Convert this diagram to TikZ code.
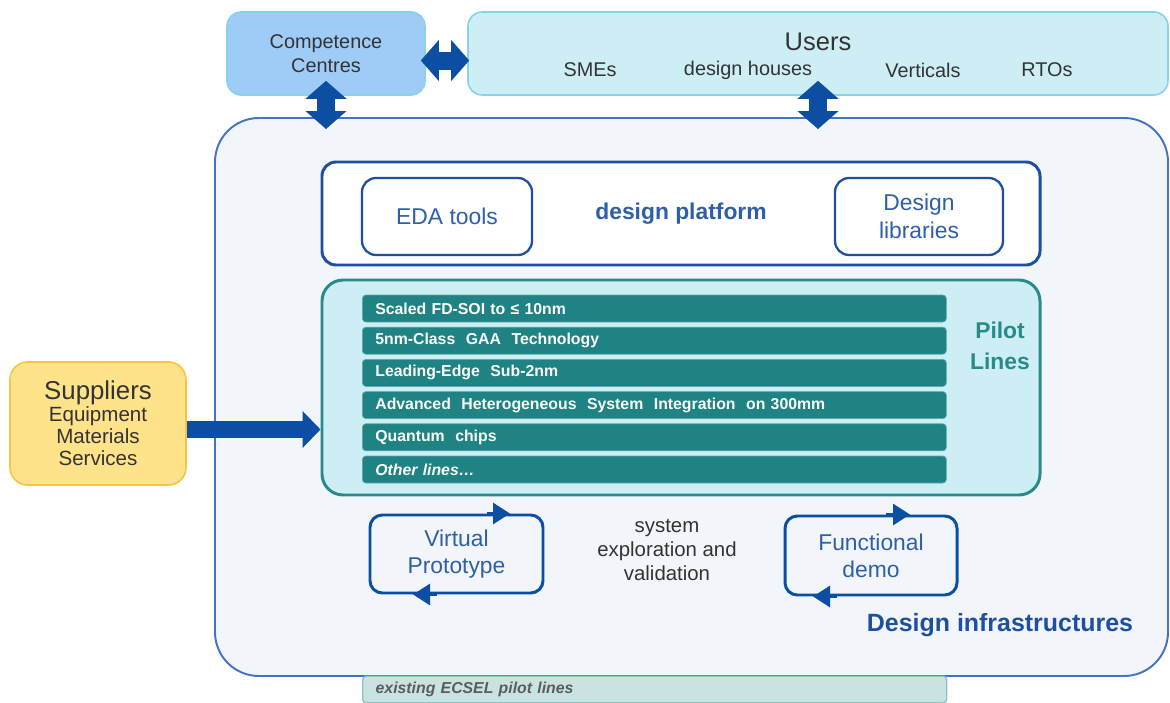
\documentclass[tikz,border=0pt]{standalone}
\usepackage{fontspec}
\setmainfont{Liberation Sans}
\usetikzlibrary{arrows.meta,positioning}

\definecolor{arrowblue}{HTML}{0B4EA2}
\definecolor{infraline}{HTML}{4472C4}
\definecolor{infrafill}{HTML}{F2F6FB}
\definecolor{platline}{HTML}{1F4FA0}
\definecolor{plattext}{HTML}{2F5FA8}
\definecolor{tealline}{HTML}{2A8A8A}
\definecolor{tealbar}{HTML}{1F8383}
\definecolor{lightcyan}{HTML}{CCEEF4}
\definecolor{cyanline}{HTML}{85D5E6}
\definecolor{ccfill}{HTML}{9FCBF7}
\definecolor{supfill}{HTML}{FFE38A}
\definecolor{supline}{HTML}{F5C542}
\definecolor{ecselfill}{HTML}{C9E3E3}
\definecolor{ecselline}{HTML}{8CC3C3}
\definecolor{darktext}{HTML}{333333}

\def\pxu{0.02cm}
\tikzstyle{topbox}=[draw=cyanline, line width=0.9pt, rounded corners=8pt,
                    text=darktext, align=center]
\tikzstyle{bluebox}=[draw=platline, line width=1.3pt, rounded corners=8pt,
                     fill=white, text=plattext, align=center,
                     font=\fontsize{13}{16}\selectfont]
\tikzstyle{linebar}=[fill=tealbar, draw=tealbar!70!white, rounded corners=2pt,
                     anchor=west, minimum height=27*\pxu, inner xsep=13*\pxu,
                     text width=558*\pxu, align=left, text=white,
                     font=\fontsize{9}{10}\selectfont\bfseries]
\tikzstyle{loopbox}=[draw=arrowblue, line width=1.7pt, rounded corners=7pt,
                     text=plattext, align=center,
                     font=\fontsize{13}{15.5}\selectfont]
\tikzstyle{fatarrow}=[arrowblue, line width=18*\pxu,
                      {Triangle[width=40*\pxu, length=18*\pxu]}-{Triangle[width=40*\pxu, length=18*\pxu]}]
\tikzstyle{looptip}=[arrowblue, line width=1.7pt,
                     -{Triangle[width=21*\pxu, length=17*\pxu]}]

\begin{document}
\begin{tikzpicture}[x=\pxu, y=-\pxu]
  \useasboundingbox (0,0) rectangle (1170,703);
  % Outer design infrastructure
  \node[draw=infraline, fill=infrafill, line width=1.1pt, rounded corners=25pt,
        minimum width=953*\pxu, minimum height=558*\pxu] (infra) at (691.5,397) {};
  \node[text=platline, font=\fontsize{14.2}{17}\selectfont\bfseries]
        (infralabel) at (1000,625) {Design infrastructures};
  %
  % Top row: competence centres and users
  \node[topbox, fill=ccfill, minimum width=198*\pxu, minimum height=83*\pxu,
        font=\fontsize{11.3}{13.5}\selectfont] (cc) at (326,53.5) {Competence\\Centres};
  \node[topbox, fill=lightcyan, minimum width=700*\pxu, minimum height=83*\pxu]
        (users) at (818,53.5) {};
  \node[text=darktext, font=\fontsize{14.5}{17}\selectfont] (userstitle) at (818,42) {Users};
  \foreach \place/\name/\txt in {{(590,70)/sme/SMEs}, {(748,70)/dh/design houses},
           {(923,70)/vert/Verticals}, {(1047,70)/rto/RTOs}}
    \node[text=darktext, font=\fontsize{11.3}{13.5}\selectfont] (\name) at \place {\txt};
  %
  % Double arrows
  \draw[fatarrow, shorten <=-5*\pxu, shorten >=-2*\pxu]
       ([yshift=-7*\pxu]cc.east) -- ([yshift=-7*\pxu]users.west);
  \draw[fatarrow, shorten <=-15*\pxu, shorten >=-12*\pxu] (cc.south) -- (cc.south |- infra.north);
  \draw[fatarrow, shorten <=-15*\pxu, shorten >=-12*\pxu] (users.south) -- (users.south |- infra.north);
  %
  % Design platform
  \node[bluebox, line width=1.7pt, minimum width=718*\pxu, minimum height=103*\pxu,
        font=\fontsize{13}{16}\selectfont\bfseries] (platform) at (681,213.5) {design platform};
  \node[bluebox, minimum width=170*\pxu, minimum height=77*\pxu] (eda) at (447,216.5) {EDA tools};
  \node[bluebox, minimum width=168*\pxu, minimum height=77*\pxu] (lib) at (919,216.5) {Design\\libraries};
  %
  % Pilot lines
  \node[draw=tealline, fill=lightcyan, line width=1.7pt, rounded corners=12pt,
        minimum width=718*\pxu, minimum height=215*\pxu] (pilot) at (681,387.5) {};
  \node[text=tealline, align=center, font=\fontsize{13}{17.5}\selectfont\bfseries]
        (pilotlabel) at (1000,346) {Pilot\\Lines};
  \foreach \i/\txt in {1/{Scaled FD-SOI to ≤ 10nm}, 2/{5nm-Class\ \ GAA\ \ Technology},
           3/{Leading-Edge\ \ Sub-2nm},
           4/{Advanced\ \ Heterogeneous\ \ System\ \ Integration\ \ on 300mm},
           5/{Quantum\ \ chips}, 6/{\itshape Other lines\dots}}
    \node[linebar] (bar\i) at (362,{308.5+32.2*(\i-1)}) {\txt};
  %
  % Suppliers
  \node[draw=supline, fill=supfill, line width=0.9pt, rounded corners=10pt,
        minimum width=176*\pxu, minimum height=123*\pxu, align=center, text=darktext,
        font=\fontsize{11.7}{12.5}\selectfont] (suppl) at (98,423.5)
        {{\fontsize{14.7}{17}\selectfont Suppliers}\\Equipment\\Materials\\Services};
  \draw[arrowblue, line width=17*\pxu, -{Triangle[width=36*\pxu, length=18*\pxu]}]
       ([yshift=-6*\pxu]suppl.east) -- ([yshift=-6*\pxu]suppl.east -| pilot.west);
  %
  % Prototype loops
  \node[loopbox, minimum width=173*\pxu, minimum height=78*\pxu] (vp) at (456.5,554) {Virtual\\Prototype};
  \draw[looptip] ([xshift=30*\pxu]vp.north) -- ([xshift=53.5*\pxu]vp.north);
  \draw[looptip] ([xshift=-20*\pxu]vp.south) -- ([xshift=-43.5*\pxu]vp.south);
  \node[loopbox, minimum width=172*\pxu, minimum height=79*\pxu] (fd) at (871,555.5) {Functional\\demo};
  \draw[looptip] ([xshift=15*\pxu]fd.north) -- ([xshift=39*\pxu]fd.north);
  \draw[looptip] ([xshift=-34*\pxu]fd.south) -- ([xshift=-58*\pxu]fd.south);
  \node[text=darktext, align=center, font=\fontsize{11.6}{13.8}\selectfont]
        (explore) at (667,550) {system\\exploration and\\validation};
  %
  % Existing lines
  \node[fill=ecselfill, draw=ecselline, line width=0.8pt, rounded corners=2pt, anchor=west,
        minimum height=26*\pxu, inner xsep=13*\pxu, text width=558*\pxu, align=left,
        text=darktext!80!white, font=\fontsize{9}{10}\selectfont\bfseries\itshape]
        (ecsel) at (362,689.5) {existing ECSEL pilot lines};
\end{tikzpicture}
\end{document}
